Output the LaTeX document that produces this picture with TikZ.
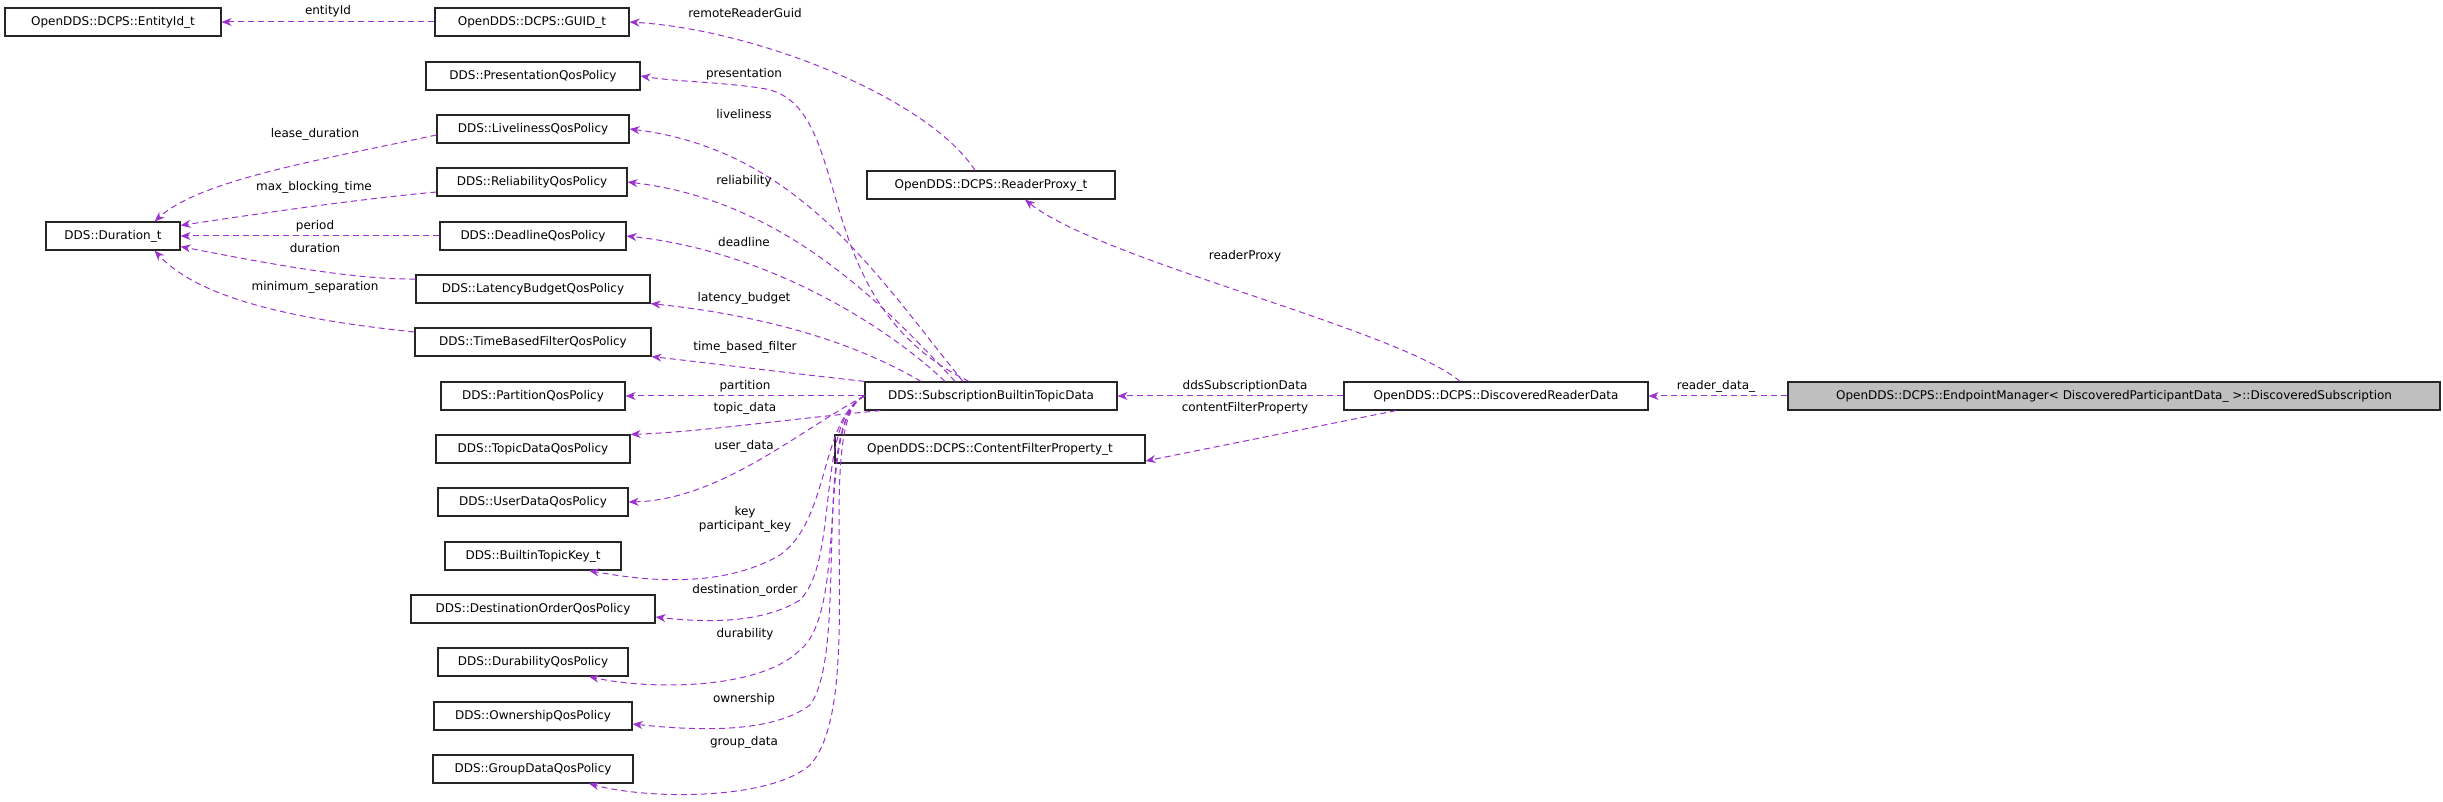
\documentclass[tikz,border=0pt]{standalone}
\usepackage{fontspec}
\setmainfont{DejaVu Sans}
\usetikzlibrary{arrows.meta}
\definecolor{edgec}{HTML}{9A32CD}
\begin{document}
\begin{tikzpicture}[x=0.5pt,y=-0.5pt,
  box/.style={draw=black!85,line width=0.6pt,inner sep=0pt,minimum height=14pt,font=\fontsize{6}{7}\selectfont},
  dep/.style={draw=edgec,dashed,dash pattern=on 3pt off 2pt,line width=0.5pt,-{Stealth[length=5pt,width=4pt]}},
  lab/.style={font=\fontsize{6}{7}\selectfont,inner sep=0pt}]
\useasboundingbox (0,0) rectangle (2443,802);
\node[box,minimum width=108pt] (ent) at (113,22) {OpenDDS::DCPS::EntityId\_t};
\node[box,minimum width=97pt] (guid) at (532,22) {OpenDDS::DCPS::GUID\_t};
\node[box,minimum width=107pt] (pres) at (533,76) {DDS::PresentationQosPolicy};
\node[box,minimum width=96pt] (live) at (533,129) {DDS::LivelinessQosPolicy};
\node[box,minimum width=95pt] (rel) at (532,182) {DDS::ReliabilityQosPolicy};
\node[box,minimum width=67pt] (dur) at (113,236) {DDS::Duration\_t};
\node[box,minimum width=93pt] (dead) at (533,236) {DDS::DeadlineQosPolicy};
\node[box,minimum width=117pt] (lat) at (533,289) {DDS::LatencyBudgetQosPolicy};
\node[box,minimum width=118pt] (tbf) at (533,342) {DDS::TimeBasedFilterQosPolicy};
\node[box,minimum width=92pt] (part) at (533,396) {DDS::PartitionQosPolicy};
\node[box,minimum width=97pt] (td) at (533,449) {DDS::TopicDataQosPolicy};
\node[box,minimum width=95pt] (ud) at (533,502) {DDS::UserDataQosPolicy};
\node[box,minimum width=88pt] (key) at (533,556) {DDS::BuiltinTopicKey\_t};
\node[box,minimum width=122pt] (dest) at (533,609) {DDS::DestinationOrderQosPolicy};
\node[box,minimum width=95pt] (dura) at (533,662) {DDS::DurabilityQosPolicy};
\node[box,minimum width=99pt] (own) at (533,716) {DDS::OwnershipQosPolicy};
\node[box,minimum width=100pt] (gd) at (533,769) {DDS::GroupDataQosPolicy};
\node[box,minimum width=126pt] (sub) at (991,396) {DDS::SubscriptionBuiltinTopicData};
\node[box,minimum width=124pt] (rp) at (991,185) {OpenDDS::DCPS::ReaderProxy\_t};
\node[box,minimum width=155pt] (cf) at (990,449) {OpenDDS::DCPS::ContentFilterProperty\_t};
\node[box,minimum width=152pt] (drd) at (1496,396) {OpenDDS::DCPS::DiscoveredReaderData};
\node[box,minimum width=326pt,fill=black!25] (ds) at (2114,396) {OpenDDS::DCPS::EndpointManager< DiscoveredParticipantData\_ >::DiscoveredSubscription};

% edges
\draw[dep] (guid.west) -- node[lab,above=2pt]{entityId} (ent.east);
\draw[dep] ([xshift=-8pt]rp.north) .. controls (930,100) and (760,30) .. (guid.east);
\node[lab] at (745,13) {remoteReaderGuid};
\draw[dep] ([xshift=-11pt]sub.north) .. controls (800,300) and (860,100) .. (760,88) .. controls (720,82) and (680,82) .. (pres.east);
\node[lab] at (744,74) {presentation};
\draw[dep] ([xshift=-14pt]sub.north) .. controls (880,280) and (800,150) .. (live.east);
\node[lab] at (744,114) {liveliness};
\draw[dep] ([xshift=-18pt]sub.north) .. controls (880,300) and (780,200) .. (rel.east);
\node[lab] at (744,181) {reliability};
\draw[dep] ([xshift=-23pt]sub.north) .. controls (880,320) and (760,250) .. (dead.east);
\node[lab] at (744,242) {deadline};
\draw[dep] ([xshift=-35pt]sub.north) .. controls (850,340) and (760,315) .. (lat.south east);
\node[lab] at (744,298) {latency\_budget};
\draw[dep] (sub.north west) .. controls (780,372) and (700,362) .. (tbf.south east);
\node[lab] at (745,347) {time\_based\_filter};
\draw[dep] (sub.west) -- (part.east);
\node[lab] at (745,386) {partition};
\draw[dep] ([xshift=8pt]sub.south west) .. controls (780,420) and (700,432) .. (td.north east);
\node[lab] at (745,408) {topic\_data};
\draw[dep] (sub.west) .. controls (800,430) and (720,500) .. (ud.east);
\node[lab] at (744,446) {user\_data};
\draw[dep] (sub.west) .. controls (820,420) and (830,520) .. (780,555) .. controls (720,590) and (640,580) .. ([xshift=28pt]key.south);
\node[lab,align=center] at (745,519) {key\\participant\_key};
\draw[dep] (sub.west) .. controls (815,420) and (840,560) .. (800,600) .. controls (760,625) and (700,622) .. ([yshift=-4pt]dest.east);
\node[lab] at (745,590) {destination\_order};
\draw[dep] (sub.west) .. controls (815,420) and (850,610) .. (800,650) .. controls (760,690) and (650,690) .. ([xshift=28pt]dura.south);
\node[lab] at (745,634) {durability};
\draw[dep] (sub.west) .. controls (810,420) and (850,650) .. (810,705) .. controls (770,735) and (690,730) .. ([yshift=-4pt]own.east);
\node[lab] at (744,699) {ownership};
\draw[dep] (sub.west) .. controls (810,420) and (870,700) .. (810,765) .. controls (770,800) and (650,800) .. ([xshift=28pt]gd.south);
\node[lab] at (744,742) {group\_data};

\draw[dep] ([yshift=-3pt]live.west) .. controls (320,160) and (200,180) .. ([xshift=-13pt]dur.north east);
\node[lab] at (315,134) {lease\_duration};
\draw[dep] ([yshift=-5pt]rel.west) .. controls (350,200) and (250,215) .. ([yshift=-2pt]dur.north east);
\node[lab] at (314,187) {max\_blocking\_time};
\draw[dep] (dead.west) -- (dur.east);
\node[lab] at (315,226) {period};
\draw[dep] ([yshift=5pt]lat.west) .. controls (350,280) and (250,260) .. ([yshift=2pt]dur.south east);
\node[lab] at (315,248) {duration};
\draw[dep] ([yshift=5pt]tbf.west) .. controls (300,320) and (200,300) .. ([xshift=-13pt]dur.south east);
\node[lab] at (315,287) {minimum\_separation};

\draw[dep] ([xshift=-18pt]drd.north) .. controls (1400,330) and (1100,260) .. ([xshift=17pt]rp.south);
\node[lab] at (1245,256) {readerProxy};
\draw[dep] (drd.west) -- (sub.east);
\node[lab] at (1245,386) {ddsSubscriptionData};
\draw[dep] ([xshift=-50pt]drd.south) -- ([yshift=-6pt]cf.east);
\node[lab] at (1245,408) {contentFilterProperty};
\draw[dep] (ds.west) -- (drd.east);
\node[lab] at (1716,386) {reader\_data\_};
\end{tikzpicture}
\end{document}
